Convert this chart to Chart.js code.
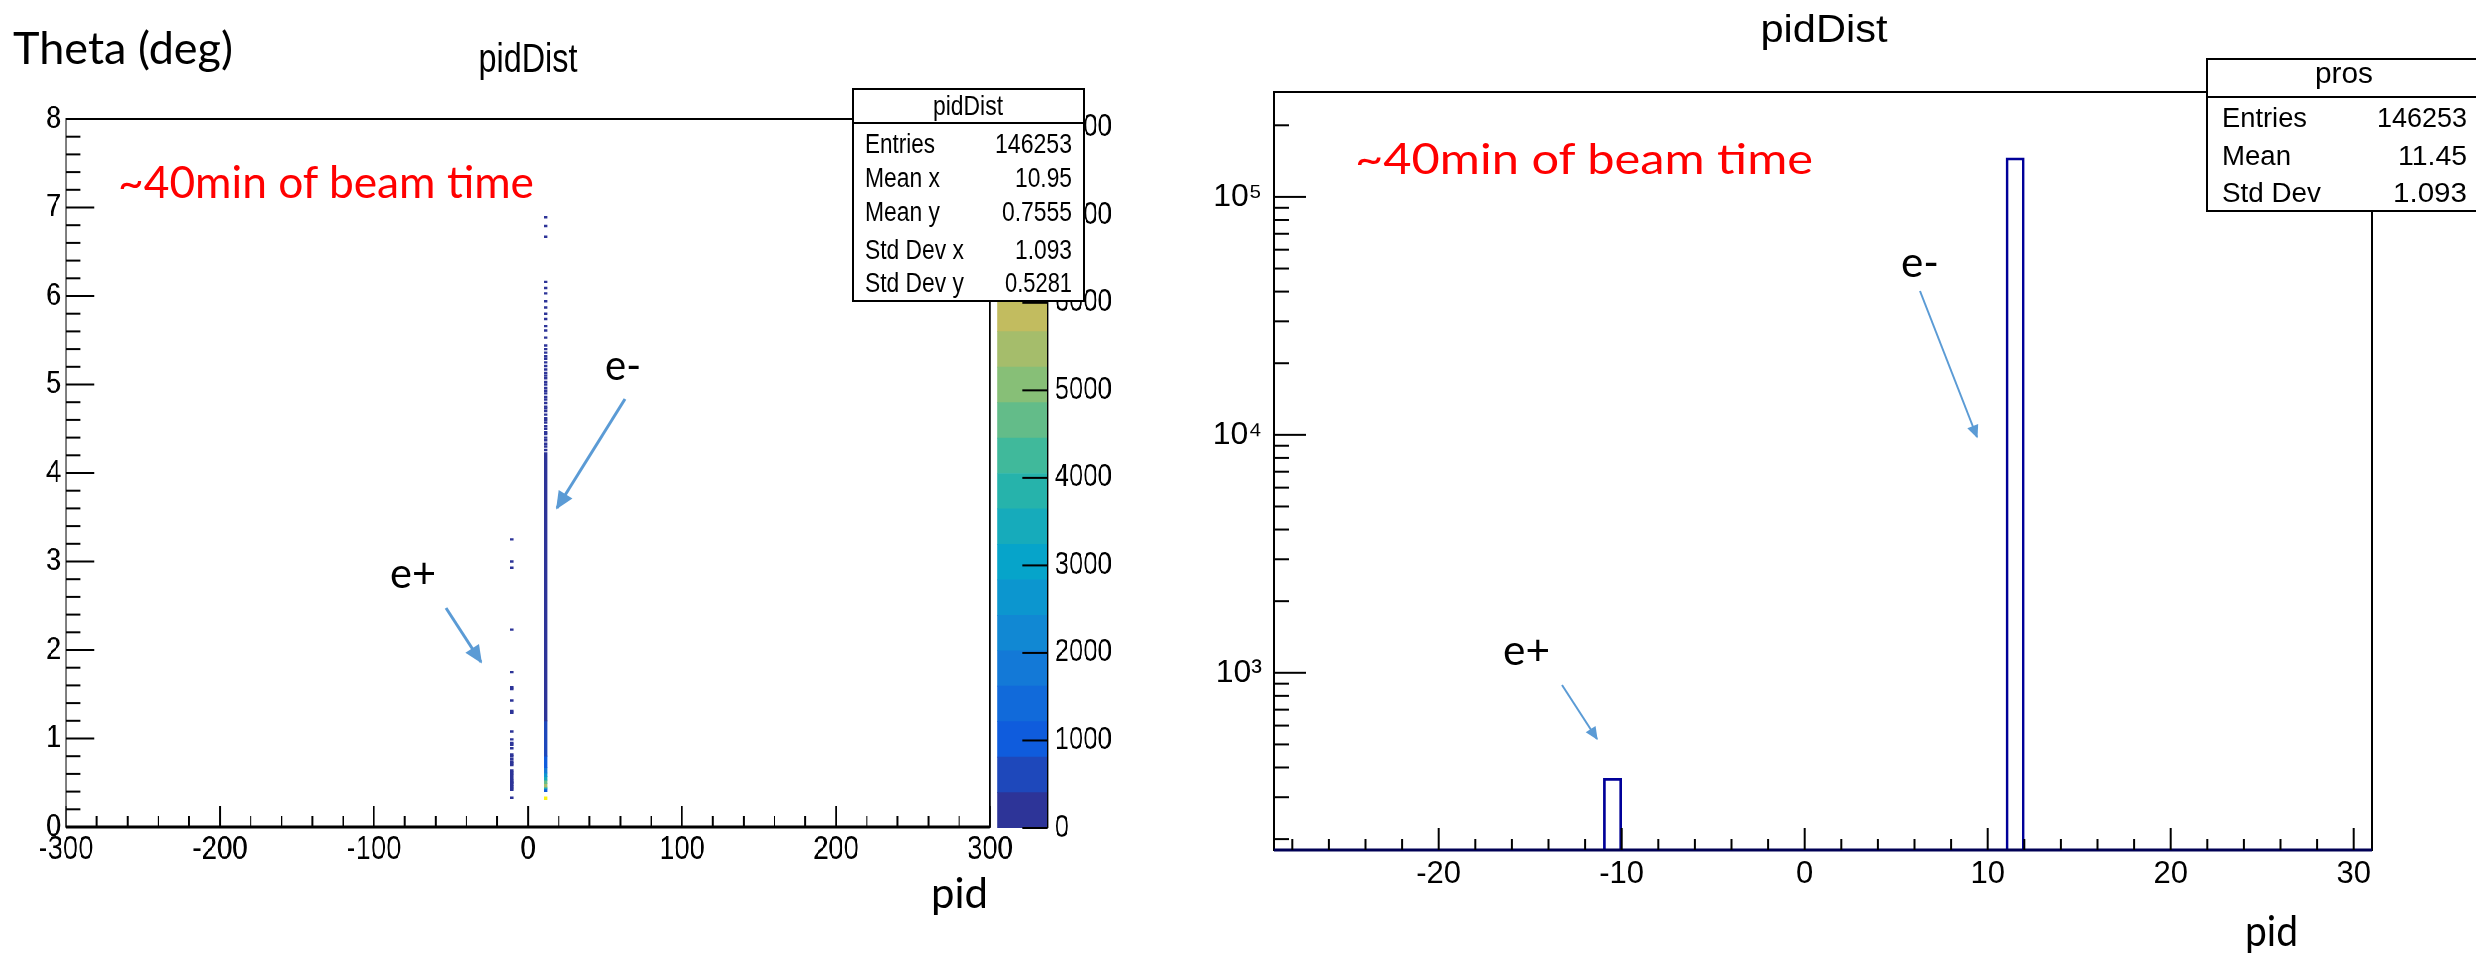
<!DOCTYPE html>
<html>
<head>
<meta charset="utf-8">
<script src="https://cdn.jsdelivr.net/npm/chart.js@4.4.0/dist/chart.umd.min.js"></script>
<style>
  html, body { margin: 0; padding: 0; background: #fff; }
  #page { position: relative; width: 2476px; height: 956px; overflow: hidden; background: #fff; }
  /* the left ROOT canvas is squeezed sideways in the original slide */
  #squeeze { position: absolute; left: 0; top: 0; width: 1443px; height: 956px; transform: scaleX(0.83); transform-origin: 0 0; }
  canvas { position: absolute; top: 0; }
  #cLeft { left: 0; }
  #cBar { left: 1193px; }
  #cRight { left: 1200px; }
  #notes { position: absolute; left: 0; top: 0; }
  .calibri { font-family: Lato, 'Open Sans', sans-serif; }
  .arial { font-family: 'Liberation Sans', Arial, sans-serif; }
</style>
</head>
<body>
<div id="page">
  <div id="squeeze">
    <canvas id="cLeft" width="1230" height="956"></canvas>
    <canvas id="cBar" width="250" height="956"></canvas>
  </div>
  <canvas id="cRight" width="1276" height="956"></canvas>

  <svg id="notes" width="2476" height="956" xmlns="http://www.w3.org/2000/svg">
    <defs>
      <marker id="headL" viewBox="0 0 10 10" refX="9" refY="5" markerWidth="24" markerHeight="18" markerUnits="userSpaceOnUse" orient="auto">
        <path d="M0,0.5 L10,5 L0,9.5 z" fill="#5B9BD5"/>
      </marker>
      <marker id="headS" viewBox="0 0 10 10" refX="9" refY="5" markerWidth="18" markerHeight="13" markerUnits="userSpaceOnUse" orient="auto">
        <path d="M0,0.5 L10,5 L0,9.5 z" fill="#5B9BD5"/>
      </marker>
    </defs>

    <!-- left panel texts -->
    <text class="calibri" x="13" y="64" font-size="44" textLength="220" lengthAdjust="spacingAndGlyphs">Theta (deg)</text>
    <text class="arial" x="528" y="72" font-size="40" text-anchor="middle" textLength="99" lengthAdjust="spacingAndGlyphs">pidDist</text>
    <text class="calibri" x="118" y="198" font-size="44" fill="#FF0000" textLength="416" lengthAdjust="spacingAndGlyphs">~40min of beam time</text>
    <text class="calibri" x="605" y="380" font-size="42" textLength="36" lengthAdjust="spacingAndGlyphs">e-</text>
    <text class="calibri" x="390" y="588" font-size="42" textLength="46" lengthAdjust="spacingAndGlyphs">e+</text>
    <text class="calibri" x="931" y="908" font-size="42" textLength="57" lengthAdjust="spacingAndGlyphs">pid</text>
    <line x1="625" y1="399" x2="557" y2="508" stroke="#5B9BD5" stroke-width="3" marker-end="url(#headL)"/>
    <line x1="446" y1="608" x2="481" y2="662" stroke="#5B9BD5" stroke-width="3" marker-end="url(#headL)"/>

    <!-- left stats box -->
    <rect x="853" y="89" width="231" height="212" fill="#fff" stroke="#000" stroke-width="2"/>
    <line x1="853" y1="123" x2="1084" y2="123" stroke="#000" stroke-width="2"/>
    <g class="arial" font-size="27">
      <text x="968" y="115" font-size="28" text-anchor="middle" textLength="70" lengthAdjust="spacingAndGlyphs">pidDist</text>
      <text x="865" y="153" textLength="70" lengthAdjust="spacingAndGlyphs">Entries</text>
      <text x="865" y="187" textLength="75" lengthAdjust="spacingAndGlyphs">Mean x</text>
      <text x="865" y="221" textLength="75" lengthAdjust="spacingAndGlyphs">Mean y</text>
      <text x="865" y="259" textLength="99" lengthAdjust="spacingAndGlyphs">Std Dev x</text>
      <text x="865" y="292" textLength="99" lengthAdjust="spacingAndGlyphs">Std Dev y</text>
      <text x="1072" y="153" text-anchor="end" textLength="77" lengthAdjust="spacingAndGlyphs">146253</text>
      <text x="1072" y="187" text-anchor="end" textLength="57" lengthAdjust="spacingAndGlyphs">10.95</text>
      <text x="1072" y="221" text-anchor="end" textLength="70" lengthAdjust="spacingAndGlyphs">0.7555</text>
      <text x="1072" y="259" text-anchor="end" textLength="57" lengthAdjust="spacingAndGlyphs">1.093</text>
      <text x="1072" y="292" text-anchor="end" textLength="67" lengthAdjust="spacingAndGlyphs">0.5281</text>
    </g>

    <!-- right panel texts -->
    <text class="arial" x="1824" y="42" font-size="38" text-anchor="middle" textLength="127" lengthAdjust="spacingAndGlyphs">pidDist</text>
    <text class="calibri" x="1355" y="174" font-size="42" fill="#FF0000" textLength="458" lengthAdjust="spacingAndGlyphs">~40min of beam time</text>
    <text class="calibri" x="1901" y="277" font-size="42" textLength="38" lengthAdjust="spacingAndGlyphs">e-</text>
    <text class="calibri" x="1503" y="665" font-size="42" textLength="47" lengthAdjust="spacingAndGlyphs">e+</text>
    <text class="calibri" x="2245" y="946" font-size="42" textLength="53" lengthAdjust="spacingAndGlyphs">pid</text>
    <line x1="1920" y1="291" x2="1977" y2="437" stroke="#5B9BD5" stroke-width="2" marker-end="url(#headS)"/>
    <line x1="1562" y1="685" x2="1597" y2="739" stroke="#5B9BD5" stroke-width="2" marker-end="url(#headS)"/>

    <!-- right stats box -->
    <rect x="2207" y="59" width="280" height="152" fill="#fff" stroke="#000" stroke-width="2"/>
    <line x1="2207" y1="97" x2="2487" y2="97" stroke="#000" stroke-width="2"/>
    <g class="arial" font-size="27">
      <text x="2344" y="83" font-size="30" text-anchor="middle" textLength="58" lengthAdjust="spacingAndGlyphs">pros</text>
      <text x="2222" y="127" textLength="85" lengthAdjust="spacingAndGlyphs">Entries</text>
      <text x="2222" y="165" textLength="69" lengthAdjust="spacingAndGlyphs">Mean</text>
      <text x="2222" y="202" textLength="99" lengthAdjust="spacingAndGlyphs">Std Dev</text>
      <text x="2467" y="127" text-anchor="end" textLength="90" lengthAdjust="spacingAndGlyphs">146253</text>
      <text x="2467" y="165" text-anchor="end" textLength="69" lengthAdjust="spacingAndGlyphs">11.45</text>
      <text x="2467" y="202" text-anchor="end" textLength="74" lengthAdjust="spacingAndGlyphs">1.093</text>
    </g>
  </svg>
</div>

<script>
// ---------- values ----------

// right panel: 1-D pid histogram, unit wide bins [low, low + 1)
const pidBinLow = [-11, 11];
const pidCounts = [360, 145893];
const pidTicks = [-20, -10, 0, 10, 20, 30];
const countTicks = [1e3, 1e4, 1e5];

// left panel: theta vs pid, 2-D histogram (colz)
const pidWideTicks = [-300, -200, -100, 0, 100, 200, 300];
const thetaTicks = [0, 1, 2, 3, 4, 5, 6, 7, 8];
const zTicks = [0, 1000, 2000, 3000, 4000, 5000, 6000, 7000, 8000];

// e- column (pid 11): runs of theta bins -> [theta low, theta high, counts per bin]
const eMinusRuns = [
  [0.31, 0.34, 8090],
  [0.40, 0.43, 1200],
  [0.43, 0.45, 3500],
  [0.45, 0.49, 5300],
  [0.49, 0.53, 4700],
  [0.53, 0.57, 3500],
  [0.57, 0.61, 2600],
  [0.61, 0.67, 1800],
  [0.67, 0.80, 1100],
  [0.80, 1.20, 700],
  [1.20, 4.23, 300]
];
// e- single bins above the dense part (theta centre, counts)
const eMinusSparseTheta = [4.26, 4.30, 4.33, 4.37, 4.40, 4.44, 4.46, 4.50, 4.53, 4.57, 4.60, 4.62,
  4.66, 4.70, 4.73, 4.75, 4.79, 4.83, 4.86, 4.90, 4.93, 4.96, 5.00, 5.03, 5.07, 5.10, 5.13, 5.17,
  5.21, 5.25, 5.29, 5.32, 5.36, 5.40, 5.44, 5.53, 5.61, 5.66, 5.74, 5.80, 5.87, 5.94, 6.03, 6.09,
  6.16, 6.67, 6.79, 6.89];
const eMinusSparseCounts = [6, 5, 5, 4, 5, 4, 4, 4, 3, 4, 3, 3, 3, 3, 3, 2, 3, 2, 2, 2, 2, 2, 2, 2,
  2, 2, 1, 2, 1, 2, 1, 1, 1, 1, 1, 1, 1, 1, 1, 1, 1, 1, 1, 1, 1, 1, 1, 1];
// e+ column (pid -11): single bins
const ePlusTheta = [0.33, 0.42, 0.44, 0.46, 0.48, 0.50, 0.51, 0.53, 0.55, 0.58, 0.60, 0.62, 0.64,
  0.70, 0.72, 0.74, 0.77, 0.80, 0.82, 0.89, 0.93, 0.95, 0.99, 1.08, 1.29, 1.31, 1.43, 1.56, 1.58,
  1.75, 2.23, 2.93, 3.00, 3.25];
const ePlusCounts = [30, 22, 25, 24, 20, 22, 18, 20, 16, 14, 12, 12, 10, 10, 9, 8, 8, 7, 6, 6, 5,
  5, 4, 4, 3, 3, 3, 2, 2, 2, 1, 1, 1, 1];

// ---------- style ----------
const ARIAL = "'Liberation Sans', Arial, sans-serif";
const SQ = 0.83;            // sideways squeeze of the left picture
const THETA_BIN = 0.02;
const N_CONT = 20, Z_MAX = 8100;
const HIST_LINE = '#000099';

// ROOT kBird palette stops
const birdR = [0.2082, 0.0592, 0.0780, 0.0232, 0.1802, 0.5301, 0.8186, 0.9956, 0.9764];
const birdG = [0.1664, 0.3599, 0.5041, 0.6419, 0.7178, 0.7492, 0.7328, 0.7862, 0.9832];
const birdB = [0.5293, 0.8684, 0.8385, 0.7914, 0.6425, 0.4662, 0.3499, 0.1968, 0.0539];
function bird(t) {
  var f = t * (birdR.length - 1), i = Math.min(Math.floor(f), birdR.length - 2), u = f - i;
  var c = [birdR, birdG, birdB].map(a => Math.round(255 * (a[i] + (a[i + 1] - a[i]) * u)));
  return 'rgb(' + c.join(',') + ')';
}
var zColors = [];
for (var i = 0; i < N_CONT; i++) zColors.push(bird((i + 0.5) / N_CONT));
function zColor(z) { return zColors[Math.min(N_CONT - 1, Math.floor(z / Z_MAX * N_CONT))]; }

const SUP = {'0': '⁰', '1': '¹', '2': '²', '3': '³', '4': '⁴', '5': '⁵', '6': '⁶', '7': '⁷', '8': '⁸', '9': '⁹'};
function powerLabel(v) {
  var e = String(Math.round(Math.log10(v)));
  return '10' + e.split('').map(d => SUP[d]).join('');
}
function fixTicks(values) { return function(s) { s.ticks = values.map(v => ({value: v})); }; }

// ROOT style frame with inward ticks, drawn from the chart scales
const rootAxes = {
  id: 'rootAxes',
  afterDraw(chart, args, o) {
    const ctx = chart.ctx, a = chart.chartArea;
    ctx.save();
    ctx.lineCap = 'butt';
    ctx.strokeStyle = '#000';
    if (o.frame) {
      ctx.lineWidth = 2;
      ctx.strokeRect(a.left, a.top, a.right - a.left, a.bottom - a.top);
      ctx.lineWidth = 3;
      ctx.strokeStyle = o.bottomColor || '#000';
      ctx.beginPath(); ctx.moveTo(a.left, a.bottom); ctx.lineTo(a.right, a.bottom); ctx.stroke();
      ctx.strokeStyle = '#000';
    }
    if (o.edge) {
      ctx.lineWidth = 1.5;
      ctx.beginPath(); ctx.moveTo(a.right, a.top); ctx.lineTo(a.right, a.bottom); ctx.stroke();
    }
    ctx.lineWidth = 2;
    (o.ticks || []).forEach(function(t) {
      const s = chart.scales[t.scale];
      var marks = [];
      if (t.log) {
        for (var d = Math.floor(Math.log10(s.min)); d <= Math.ceil(Math.log10(s.max)); d++) {
          for (var m = 1; m <= 9; m++) {
            var v = m * Math.pow(10, d);
            if (v >= s.min && v <= s.max) marks.push([v, m === 1]);
          }
        }
      } else {
        var k0 = Math.ceil(s.min / t.minorStep - 1e-9), k1 = Math.floor(s.max / t.minorStep + 1e-9);
        for (var k = k0; k <= k1; k++) {
          var v = k * t.minorStep, r = v / t.majorStep;
          marks.push([v, Math.abs(r - Math.round(r)) < 1e-6]);
        }
      }
      marks.forEach(function(mk) {
        var p = s.getPixelForValue(mk[0]), len = mk[1] ? t.major : t.minor;
        ctx.beginPath();
        if (t.side === 'bottom') { ctx.moveTo(p, a.bottom); ctx.lineTo(p, a.bottom - len); }
        else if (t.side === 'left') { ctx.moveTo(a.left, p); ctx.lineTo(a.left + len, p); }
        else { ctx.moveTo(a.right, p); ctx.lineTo(a.right - len, p); }
        ctx.stroke();
      });
    });
    ctx.restore();
  }
};

const common = {
  responsive: false,
  animation: false,
  events: []
};
function tickFont(size) { return {family: ARIAL, size: size}; }

// ---------- left panel: 2-D histogram as floating bars ----------
function cell(pid, lo, hi, z) { return {x: pid + 0.5, y: [lo, hi], z: z}; }
const eMinusCells = eMinusRuns.map(r => cell(11, r[0], r[1], r[2]))
  .concat(eMinusSparseTheta.map((t, i) => cell(11, t - THETA_BIN / 2, t + THETA_BIN / 2, eMinusSparseCounts[i])));
const ePlusCells = ePlusTheta.map((t, i) => cell(-11, t - THETA_BIN / 2, t + THETA_BIN / 2, ePlusCounts[i]));
const cellColor = c => c.raw ? zColor(c.raw.z) : zColors[0];

// left plot frame: x 66..990, y 119..827 on the page (before squeeze: divide x by SQ)
new Chart(document.getElementById('cLeft'), {
  type: 'bar',
  data: {
    datasets: [
      {label: 'e+', data: ePlusCells, backgroundColor: cellColor, borderWidth: 0, barThickness: 2.6 / SQ, grouped: false},
      {label: 'e-', data: eMinusCells, backgroundColor: cellColor, borderWidth: 0, barThickness: 2.6 / SQ, grouped: false}
    ]
  },
  options: Object.assign({}, common, {
    layout: {padding: {left: 0, top: 119, right: 1230 - 990 / SQ, bottom: 0}, autoPadding: false},
    plugins: {
      legend: {display: false},
      tooltip: {enabled: false},
      rootAxes: {
        frame: true,
        ticks: [
          {scale: 'x', side: 'bottom', majorStep: 100, minorStep: 20, major: 21, minor: 11},
          {scale: 'y', side: 'left', majorStep: 1, minorStep: 0.2, major: 28 / SQ, minor: 14 / SQ}
        ]
      }
    },
    scales: {
      x: {
        type: 'linear', min: -300, max: 300, offset: false,
        grid: {display: false, drawTicks: false}, border: {display: false},
        afterBuildTicks: fixTicks(pidWideTicks),
        afterFit: s => { s.height = 129; },
        ticks: {font: tickFont(33), color: '#000', padding: 3, maxRotation: 0, autoSkip: false, callback: v => String(v)}
      },
      y: {
        type: 'linear', min: 0, max: 8,
        grid: {display: false, drawTicks: false}, border: {display: false},
        afterBuildTicks: fixTicks(thetaTicks),
        afterFit: s => { s.width = 66 / SQ; },
        ticks: {font: tickFont(32), color: '#000', padding: 6, autoSkip: false, callback: v => String(v)}
      }
    }
  }),
  plugins: [rootAxes]
});

// ---------- colour scale of the left panel (page x 997..1048) ----------
new Chart(document.getElementById('cBar'), {
  type: 'bar',
  data: {
    labels: ['z'],
    datasets: zColors.map((col, i) => ({
      data: [[i * Z_MAX / N_CONT, (i + 1) * Z_MAX / N_CONT]],
      backgroundColor: col, borderWidth: 0, grouped: false, barPercentage: 1, categoryPercentage: 1
    }))
  },
  options: Object.assign({}, common, {
    layout: {padding: {left: 997 / SQ - 1193, top: 119, right: 0, bottom: 128}, autoPadding: false},
    plugins: {
      legend: {display: false},
      tooltip: {enabled: false},
      rootAxes: {
        edge: true,
        ticks: [{scale: 'y', side: 'right', majorStep: 1000, minorStep: 1000, major: 26 / SQ, minor: 26 / SQ}]
      }
    },
    scales: {
      x: {display: false},
      y: {
        type: 'linear', position: 'right', min: 0, max: Z_MAX,
        grid: {display: false, drawTicks: false}, border: {display: false},
        afterBuildTicks: fixTicks(zTicks),
        afterFit: s => { s.width = 250 - (1048 / SQ - 1193); },
        ticks: {font: tickFont(31), color: '#000', padding: 8, autoSkip: false, callback: v => String(v)}
      }
    }
  }),
  plugins: [rootAxes]
});

// ---------- right panel: pid histogram, log scale (page x 1274..2372, y 92..850) ----------
const R_AREA_W = 1098, R_PID_MIN = -29, R_PID_MAX = 31;
new Chart(document.getElementById('cRight'), {
  type: 'bar',
  data: {
    datasets: [{
      label: 'pros',
      data: pidBinLow.map((b, i) => ({x: b + 0.5, y: pidCounts[i]})),
      backgroundColor: 'rgba(255,255,255,0)',
      borderColor: HIST_LINE, borderWidth: 2, borderSkipped: 'bottom',
      barThickness: R_AREA_W / (R_PID_MAX - R_PID_MIN)
    }]
  },
  options: Object.assign({}, common, {
    layout: {padding: {left: 0, top: 92, right: 104, bottom: 0}, autoPadding: false},
    plugins: {
      legend: {display: false},
      tooltip: {enabled: false},
      rootAxes: {
        frame: true, bottomColor: '#000055',
        ticks: [
          {scale: 'x', side: 'bottom', majorStep: 10, minorStep: 2, major: 22, minor: 11},
          {scale: 'y', side: 'left', log: true, major: 32, minor: 15}
        ]
      }
    },
    scales: {
      x: {
        type: 'linear', min: R_PID_MIN, max: R_PID_MAX, offset: false,
        grid: {display: false, drawTicks: false}, border: {display: false},
        afterBuildTicks: fixTicks(pidTicks),
        afterFit: s => { s.height = 106; },
        ticks: {font: tickFont(31), color: '#000', padding: 6, maxRotation: 0, autoSkip: false, callback: v => String(v)}
      },
      y: {
        type: 'logarithmic', min: 180, max: 276000,
        grid: {display: false, drawTicks: false}, border: {display: false},
        afterBuildTicks: fixTicks(countTicks),
        afterFit: s => { s.width = 74; },
        ticks: {font: tickFont(32), color: '#000', padding: 12, autoSkip: false, callback: v => powerLabel(v)}
      }
    }
  }),
  plugins: [rootAxes]
});
</script>
</body>
</html>
